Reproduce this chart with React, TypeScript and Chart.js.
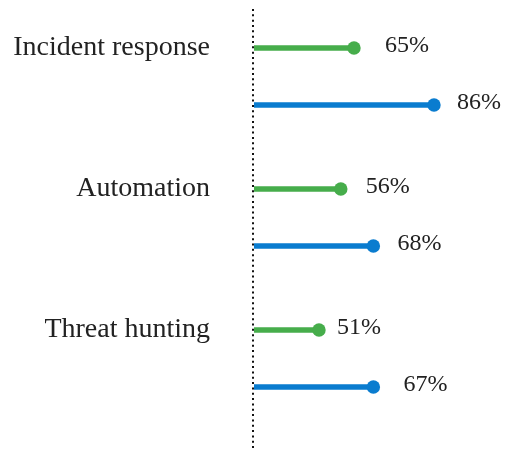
import { useEffect, useRef } from 'react';
import { Chart, registerables } from 'chart.js';

Chart.register(...registerables);

// Data
const categories = ['Incident response', 'Automation', 'Threat hunting'];
const greenValues = [50, 43.4, 32.5];
const blueValues = [90, 59.7, 59.7];
const greenLabels = ['65%', '56%', '51%'];
const blueLabels = ['86%', '68%', '67%'];

// Styles
const GREEN = '#46ad4b';
const BLUE = '#0a7ccf';
const TEXT = '#222222';
const FONT_FAMILY = '"Liberation Serif", "DejaVu Serif", serif';
const greenLabelGaps = [31, 25, 18];
const blueLabelGaps = [23, 24, 30];

const lollipopPlugin = {
  id: 'lollipop',
  beforeDatasetsDraw(chart: any) {
    const { ctx, chartArea } = chart;
    ctx.save();
    ctx.strokeStyle = '#111111';
    ctx.lineWidth = 2;
    ctx.setLineDash([2, 3.33]);
    ctx.beginPath();
    ctx.moveTo(chartArea.left - 1, 9);
    ctx.lineTo(chartArea.left - 1, chart.height);
    ctx.stroke();
    ctx.restore();
  },
  afterDatasetsDraw(chart: any) {
    const { ctx } = chart;
    chart.data.datasets.forEach((ds: any, di: number) => {
      const meta = chart.getDatasetMeta(di);
      meta.data.forEach((bar: any, i: number) => {
        ctx.save();
        ctx.fillStyle = ds.backgroundColor;
        ctx.beginPath();
        ctx.arc(bar.x, bar.y, 6.7, 0, Math.PI * 2);
        ctx.fill();
        ctx.fillStyle = TEXT;
        ctx.font = `24px ${FONT_FAMILY}`;
        ctx.textAlign = 'left';
        ctx.textBaseline = 'middle';
        ctx.fillText(ds.valueLabels[i], bar.x + ds.labelGaps[i], bar.y - 2);
        ctx.restore();
      });
    });
  },
};

export default function App() {
  const canvasRef = useRef<HTMLCanvasElement | null>(null);

  useEffect(() => {
    if (!canvasRef.current) return;
    const chart = new Chart(canvasRef.current, {
      type: 'bar',
      data: {
        labels: categories,
        datasets: [
          {
            label: 'Green',
            data: greenValues,
            backgroundColor: GREEN,
            borderWidth: 0,
            maxBarThickness: 5.5,
            barPercentage: 1,
            categoryPercentage: 0.81,
            valueLabels: greenLabels,
            labelGaps: greenLabelGaps,
          } as any,
          {
            label: 'Blue',
            data: blueValues,
            backgroundColor: BLUE,
            borderWidth: 0,
            maxBarThickness: 5.5,
            barPercentage: 1,
            categoryPercentage: 0.81,
            valueLabels: blueLabels,
            labelGaps: blueLabelGaps,
          } as any,
        ],
      },
      options: {
        indexAxis: 'y',
        animation: false,
        responsive: true,
        maintainAspectRatio: false,
        layout: { padding: { top: 6, bottom: 20, left: 0, right: 52 } },
        plugins: {
          legend: { display: false },
          tooltip: { enabled: false },
        },
        scales: {
          x: {
            display: false,
            min: 0,
            max: 100,
          },
          y: {
            grid: { display: false, drawTicks: false },
            border: { display: false },
            afterFit: (scale: any) => {
              scale.width = 254;
              scale.paddingTop = 0;
              scale.paddingBottom = 0;
            },
            ticks: {
              padding: 44,
              labelOffset: -28.5,
              color: TEXT,
              font: { family: FONT_FAMILY, size: 28 },
            },
          },
        },
      },
      plugins: [lollipopPlugin],
    });
    return () => chart.destroy();
  }, []);

  return (
    <div style={{ position: 'absolute', left: 0, top: 0, width: 506, height: 449 }}>
      <canvas ref={canvasRef} />
    </div>
  );
}
